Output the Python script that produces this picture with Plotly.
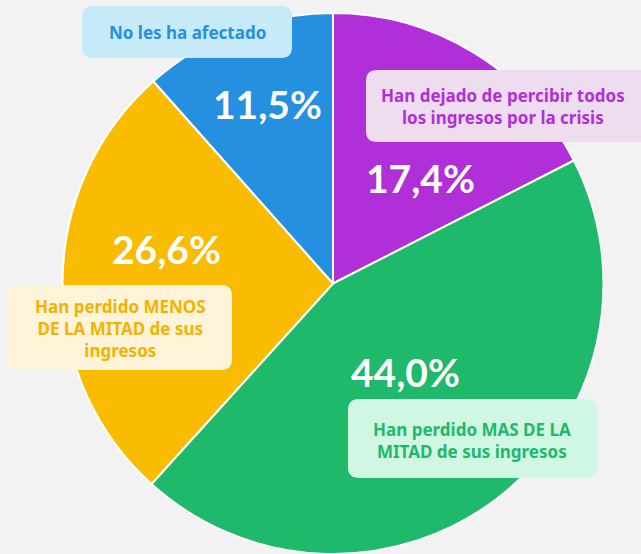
import plotly.graph_objects as go

# Data
categories = [
    "Han dejado de percibir todos los ingresos por la crisis",
    "Han perdido MAS DE LA MITAD de sus ingresos",
    "Han perdido MENOS DE LA MITAD de sus ingresos",
    "No les ha afectado",
]
values = [17.4, 44.0, 26.6, 11.5]
label_texts = [
    "Han dejado de percibir todos<br>los ingresos por la crisis",
    "Han perdido MAS DE LA<br>MITAD de sus ingresos",
    "Han perdido MENOS<br>DE LA MITAD de sus<br>ingresos",
    "No les ha afectado",
]
slice_colors = ["#B12FD9", "#1EB96B", "#F9BC00", "#2690E0"]
box_fills = ["#EEDDEF", "#CFF7E4", "#FFF3DA", "#C6EAF7"]
text_colors = ["#B12FD9", "#1EB96B", "#F2B300", "#2690E0"]

W, H = 641, 554
LABEL_FONT = "Noto Sans"
PCT_FONT = "Lato"

fig = go.Figure(go.Pie(
    values=values,
    labels=categories,
    sort=False,
    direction="clockwise",
    rotation=0,
    marker=dict(colors=slice_colors, line=dict(color="white", width=2)),
    textinfo="none",
    hoverinfo="label+percent",
    showlegend=False,
    domain=dict(x=[62 / W, 604 / W], y=[0, 541 / H]),
))


def px(x):
    return x / W


def py(y):
    return 1 - y / H


def rounded_rect(x0, y0, x1, y1, r=10):
    return (
        f"M {px(x0 + r)} {py(y0)} L {px(x1 - r)} {py(y0)} "
        f"Q {px(x1)} {py(y0)} {px(x1)} {py(y0 + r)} "
        f"L {px(x1)} {py(y1 - r)} "
        f"Q {px(x1)} {py(y1)} {px(x1 - r)} {py(y1)} "
        f"L {px(x0 + r)} {py(y1)} "
        f"Q {px(x0)} {py(y1)} {px(x0)} {py(y1 - r)} "
        f"L {px(x0)} {py(y0 + r)} "
        f"Q {px(x0)} {py(y0)} {px(x0 + r)} {py(y0)} Z"
    )


boxes = [
    (366, 70, 650, 142),
    (348, 399, 597, 478),
    (7, 285, 232, 370),
    (82, 6, 292, 58),
]
box_text_pos = [(503, 107), (472, 440), (120, 328), (187, 33)]
pct_pos = [(420, 178), (405, 372), (166, 249), (267, 104)]

shapes = []
annotations = []
for i in range(len(values)):
    x0, y0, x1, y1 = boxes[i]
    shapes.append(dict(
        type="path", xref="paper", yref="paper",
        path=rounded_rect(x0, y0, x1, y1, 11),
        fillcolor=box_fills[i], line=dict(width=0), layer="above",
    ))
    tx, ty = box_text_pos[i]
    annotations.append(dict(
        x=px(tx), y=py(ty), xref="paper", yref="paper",
        text=f"<b>{label_texts[i]}</b>", showarrow=False,
        xanchor="center", yanchor="middle", align="center",
        font=dict(family=LABEL_FONT, size=17, color=text_colors[i]),
    ))
    cx, cy = pct_pos[i]
    annotations.append(dict(
        x=px(cx), y=py(cy), xref="paper", yref="paper",
        text="<b>" + f"{values[i]:.1f}".replace(".", ",") + "%</b>",
        showarrow=False, xanchor="center", yanchor="middle",
        font=dict(family=PCT_FONT, size=39, color="white"),
    ))

fig.update_layout(
    width=W, height=H,
    margin=dict(l=0, r=0, t=0, b=0),
    paper_bgcolor="#F2F2F2",
    plot_bgcolor="#F2F2F2",
    shapes=shapes,
    annotations=annotations,
)

fig.write_html(
    "out.html",
    config={"displayModeBar": False},
    post_script="document.body.style.margin='0';document.body.style.background='#F2F2F2';document.body.style.overflow='hidden';",
)
